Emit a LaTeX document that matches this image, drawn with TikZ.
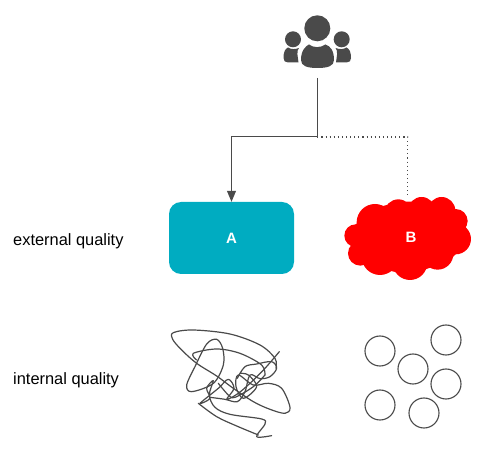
\documentclass[tikz,border=0pt]{standalone}
\usepackage{fontspec}
\usetikzlibrary{arrows.meta}
\setmainfont{Liberation Sans}
\definecolor{inkgrey}{HTML}{4A4A4A}
\definecolor{boxteal}{HTML}{00ACC1}
\tikzset{
    caption/.style={anchor=west,inner sep=0pt,font=\fontsize{16.4}{18}\selectfont,text=black},
    boxlabel/.style={text=white,font=\fontsize{15}{17}\selectfont\bfseries},
    ball/.style={circle,draw=inkgrey,line width=1.1pt,minimum size=30pt,inner sep=0pt},
    wire/.style={draw=inkgrey,line width=1pt},
    scribble/.style={draw=inkgrey,line width=1.2pt,line join=round,line cap=round},
}
\begin{document}
\begin{tikzpicture}[x=1pt,y=-1pt]
    \useasboundingbox(0,0)rectangle(491,449);
    % users
    \fill[inkgrey](317.3,28.3)circle(13);
    \fill[inkgrey](293,39.3)circle(8);
    \fill[inkgrey](341.7,39.3)circle(8);
    \fill[inkgrey](301,60)..controls(301,50)and(306,46)..(309,44.5)
        ..controls(314,48)and(320,48)..(325.5,44.5)
        ..controls(330,46)and(334,50)..(334,60)
        ..controls(334,66)and(328,68)..(317.5,68)
        ..controls(307,68)and(301,66)..(301,60)--cycle;
    \fill[inkgrey](283.5,58)..controls(283.5,52)and(285,49)..(288,47.5)
        ..controls(291,49.5)and(295,49.5)..(299,48)
        ..controls(296,51)and(298,57)..(298.5,62.5)
        --(288,62.5)..controls(285,62.5)and(283.5,61)..(283.5,58)--cycle;
    \fill[inkgrey](351,58)..controls(351,52)and(349.5,49)..(346.5,47.5)
        ..controls(343.5,49.5)and(339.5,49.5)..(335.5,48)
        ..controls(338.5,51)and(336.5,57)..(336,62.5)
        --(346.5,62.5)..controls(349.5,62.5)and(351,61)..(351,58)--cycle;
    \coordinate(U)at(317.3,78);
    \coordinate(J)at(317.3,137);
    % cloud
    \begin{scope}[shift={(335,185)},x=0.3333pt,y=-0.3333pt]
        \fill[red](60,120)--(120,70)--(190,50)--(320,50)--(390,110)--(400,170)--(340,230)--(220,270)--(90,240)--(50,200)--cycle;
        \foreach \cx/\cy/\cr in {120/112/55,190/85/42,260/76/40,320/77/41,362/108/36,
            362/162/46,308/207/47,225/233/52,135/215/55,76/205/37,62/152/34}
            \fill[red](\cx,\cy)circle(\cr*0.3333pt);
    \end{scope}
    \node[boxlabel](B)at(411,237.5){B};
    \coordinate(C)at(407.5,197);
    % box
    \node[fill=boxteal,rounded corners=12pt,minimum width=125pt,minimum height=72pt,
        inner sep=0pt,boxlabel](A)at(231.5,238){A};
    \draw[wire,-{Triangle[length=11pt,width=9pt]}](U)--(J)-|(A.north);
    \draw[draw=inkgrey,line width=1.1pt,dash pattern=on 1.1pt off 3pt](J)-|(C);
    \node[caption](ext)at(13,241.5){external quality};
    \node[caption](int)at(13,380.5){internal quality};
    % scribble
    \begin{scope}[shift={(150,320)},x=0.3333pt,y=-0.3333pt]
        \draw[scribble]plot[smooth,tension=0.55]coordinates{(388,95)(345,145)(300,190)(262,222)(230,238)(252,205)
            (235,178)(205,205)(150,250)(180,235)(170,205)(190,182)(178,225)(195,262)(240,283)(335,297)(345,312)(320,350)(365,347)};
        \draw[scribble]plot[smooth,tension=0.55]coordinates{(145,250)(200,290)(260,318)(325,345)};
        \draw[scribble]plot[smooth,tension=0.55]coordinates{(378,145)(375,115)(330,75)(240,42)(130,30)(70,38)(68,58)(95,90)
            (140,130)(200,168)(250,205)(310,245)(360,268)(405,280)(420,262)(395,205)(355,190)(310,195)(265,165)
            (258,200)(280,235)(320,200)(295,165)(270,160)};
        \draw[scribble]plot[smooth,tension=0.55]coordinates{(262,175)(285,140)(320,132)(365,125)(380,145)(360,170)(330,176)(300,165)(285,215)(262,245)(225,238)(180,232)};
        \draw[scribble]plot[smooth,tension=0.55]coordinates{(345,165)(335,135)(270,100)(200,87)(130,100)(140,120)};
        \draw[scribble]plot[smooth,tension=0.55]coordinates{(345,165)(310,200)(255,232)(235,225)(205,190)};
        \draw[scribble]plot[smooth,tension=0.55]coordinates{(135,140)(110,195)(125,215)(190,190)(220,135)(218,85)(200,58)(170,72)(135,140)};
    \end{scope}
    % circles
    \node[ball](n1)at(380,351){};
    \node[ball](n2)at(446,340){};
    \node[ball](n3)at(413,369){};
    \node[ball](n4)at(446,384){};
    \node[ball](n5)at(380,405){};
    \node[ball](n6)at(424,413){};
\end{tikzpicture}
\end{document}
